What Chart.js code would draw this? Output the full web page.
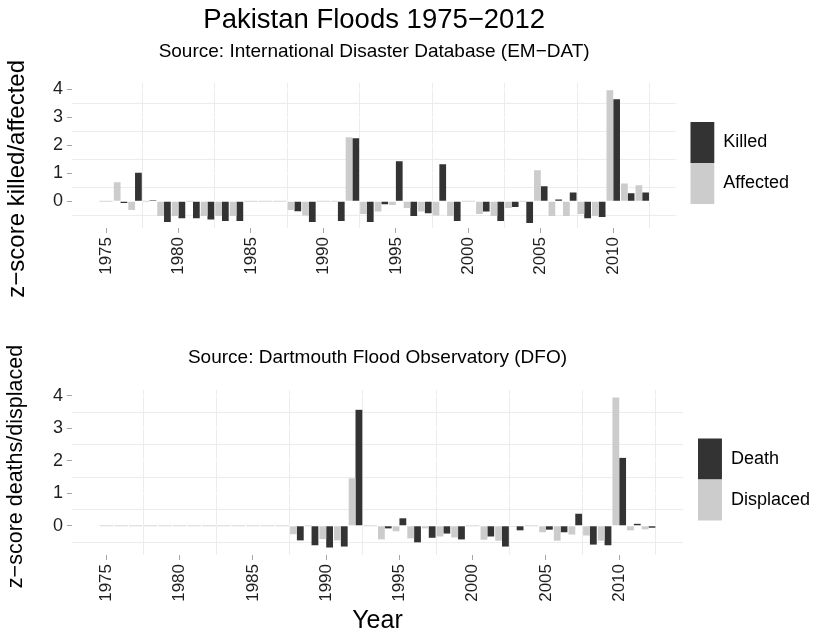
<!DOCTYPE html>
<html>
<head>
<meta charset="utf-8">
<script src="https://cdn.jsdelivr.net/npm/chart.js@4.4.1/dist/chart.umd.min.js"></script>
<style>
  body { margin: 0; background: #fff; }
  #wrap { position: relative; width: 813px; height: 636px; overflow: hidden; }
  canvas { position: absolute; left: 0; }
  #top { top: 0; }
  #bottom { top: 323px; }
</style>
</head>
<body>
<div id="wrap">
  <canvas id="top" width="813" height="326"></canvas>
  <canvas id="bottom" width="813" height="313"></canvas>
</div>
<script>
const years = [1975, 1976, 1977, 1978, 1979, 1980, 1981, 1982, 1983, 1984,
  1985, 1986, 1987, 1988, 1989, 1990, 1991, 1992, 1993, 1994,
  1995, 1996, 1997, 1998, 1999, 2000, 2001, 2002, 2003, 2004,
  2005, 2006, 2007, 2008, 2009, 2010, 2011, 2012];

// EM-DAT z-scores
const affected = [0, 0.68, -0.31, 0, -0.52, -0.52, 0, -0.52, -0.52, -0.52,
  0, 0, 0, -0.31, -0.50, 0, 0, 2.29, -0.45, -0.36,
  -0.13, -0.24, -0.36, -0.50, -0.52, 0, -0.45, -0.52, -0.24, 0,
  1.11, -0.52, -0.52, -0.45, -0.52, 3.96, 0.64, 0.57];
const killed = [0, -0.06, 1.02, 0.04, -0.74, -0.60, -0.60, -0.65, -0.70, -0.70,
  0, 0, 0, -0.35, -0.74, 0, -0.70, 2.25, -0.74, -0.10,
  1.43, -0.52, -0.42, 1.32, -0.70, 0, -0.36, -0.70, -0.20, -0.77,
  0.54, 0.07, 0.32, -0.60, -0.56, 3.64, 0.29, 0.32];

// DFO z-scores
const displaced = [0, 0, 0, 0, 0, 0, 0, 0, 0, 0,
  0, 0, 0, -0.26, 0, -0.41, -0.45, 1.46, 0, -0.42,
  -0.17, -0.39, -0.08, -0.33, -0.36, 0, -0.43, -0.46, -0.03, 0,
  -0.20, -0.46, -0.27, -0.30, -0.46, 3.95, -0.14, -0.11];
const deaths = [0, 0, 0, 0, 0, 0, 0, 0, 0, 0,
  0, 0, 0, -0.45, -0.60, -0.67, -0.64, 3.57, 0, -0.08,
  0.23, -0.51, -0.37, -0.24, -0.42, 0, -0.33, -0.64, -0.14, 0,
  -0.12, -0.20, 0.37, -0.58, -0.60, 2.09, 0.06, -0.06];

const yearTicks = [1975, 1980, 1985, 1990, 1995, 2000, 2005, 2010];
const zTicks = [0, 1, 2, 3, 4];

const light = '#cccccc';
const dark = '#333333';
const zeroCol = '#d6d6d6';
const gridCol = '#ececec';
const nb = '\u00a0';

Chart.defaults.font.family = "'Liberation Sans', Arial, sans-serif";
Chart.defaults.color = '#000';

function pts(vals) {
  return years.map((y, i) => ({ x: y, y: vals[i] }));
}

function isWhole(v) {
  return Math.abs(v - Math.round(v)) < 1e-6;
}

function makeChart(id, o) {
  const colors = [light, dark];
  return new Chart(document.getElementById(id), {
    type: 'bar',
    data: {
      datasets: [
        { label: o.names[0], data: pts(o.series[0]) },
        { label: o.names[1], data: pts(o.series[1]) }
      ].map((ds, i) => Object.assign(ds, {
        backgroundColor: c => (c.raw && c.raw.y === 0) ? zeroCol : colors[i],
        borderWidth: 0,
        minBarLength: 1,
        categoryPercentage: 0.93,
        barPercentage: 1
      }))
    },
    options: {
      responsive: false,
      animation: false,
      devicePixelRatio: 1,
      events: [],
      layout: { padding: { left: 0, right: o.padRight, top: 0, bottom: 0 } },
      plugins: {
        tooltip: { enabled: false },
        title: o.title,
        subtitle: o.subtitle,
        legend: {
          position: 'right',
          reverse: true,
          labels: {
            boxWidth: 24,
            boxHeight: 41,
            padding: 0,
            font: { size: 18 },
            color: '#000',
            generateLabels: chart => Chart.defaults.plugins.legend.labels.generateLabels(chart)
              .map(l => Object.assign(l, { fillStyle: colors[l.datasetIndex], strokeStyle: colors[l.datasetIndex], lineWidth: 0 }))
          }
        }
      },
      scales: {
        x: {
          type: 'linear',
          min: 1972.65,
          max: 2014.35,
          offset: false,
          border: { display: false },
          grid: {
            offset: false,
            color: c => isWhole(c.tick.value) ? '#ffffff' : gridCol,
            tickColor: c => isWhole(c.tick.value) ? '#a6a6a6' : 'rgba(0,0,0,0)',
            tickLength: 5
          },
          ticks: {
            autoSkip: false,
            minRotation: 90,
            maxRotation: 90,
            padding: 4,
            color: '#1f1f1f',
            font: { size: 17 },
            callback: v => isWhole(v) ? String(v) : ''
          },
          title: o.xTitle,
          afterBuildTicks: s => {
            s.ticks = [];
            yearTicks.forEach(y => { s.ticks.push({ value: y }, { value: y + 2.5 }); });
          },
          afterFit: s => { s.height = o.xHeight; }
        },
        y: {
          type: 'linear',
          min: o.yMin,
          max: o.yMax,
          border: { display: false },
          grid: {
            color: c => isWhole(c.tick.value) ? '#ffffff' : gridCol,
            tickColor: c => isWhole(c.tick.value) ? '#a6a6a6' : 'rgba(0,0,0,0)',
            tickLength: 5
          },
          ticks: {
            autoSkip: false,
            padding: 4,
            color: '#1f1f1f',
            font: { size: 18 },
            callback: v => isWhole(v) ? String(v) : ''
          },
          title: {
            display: true,
            text: o.yTitle,
            font: { size: o.yTitleSize },
            color: '#000',
            padding: { top: 3, bottom: 0 }
          },
          afterBuildTicks: s => {
            const t = [-0.5];
            zTicks.forEach(z => { t.push(z, z + 0.5); });
            s.ticks = t.filter(v => v >= s.min && v <= s.max).map(v => ({ value: v }));
          },
          afterFit: s => { s.width = 72; }
        },
        gap: {
          type: 'linear',
          position: 'right',
          display: true,
          grid: { display: false, drawTicks: false },
          ticks: { display: false },
          border: { display: false },
          afterFit: s => { s.width = o.gap; }
        }
      }
    }
  });
}

makeChart('top', {
  names: ['Affected', 'Killed'],
  series: [affected, killed],
  yMin: -0.95, yMax: 4.22,
  // trailing spaces push the rotated title down a little
  yTitle: 'z\u2212score killed/affected' + nb.repeat(7),
  yTitleSize: 24,
  xHeight: 98,
  xTitle: { display: false },
  padRight: 14,
  gap: 14,
  title: {
    display: true,
    text: 'Pakistan Floods 1975\u22122012',
    fullSize: false,
    font: { size: 27.5, weight: 'normal' },
    color: '#000',
    padding: { top: 3.5, bottom: 0 }
  },
  subtitle: {
    display: true,
    text: 'Source: International Disaster Database (EM\u2212DAT)',
    fullSize: false,
    font: { size: 19 },
    color: '#000',
    padding: { top: 4, bottom: 19.7 }
  }
});

makeChart('bottom', {
  names: ['Displaced', 'Death'],
  series: [displaced, deaths],
  yMin: -0.9, yMax: 4.18,
  yTitle: nb.repeat(2) + 'z\u2212score deaths/displaced',
  yTitleSize: 21.5,
  xHeight: 81,
  xTitle: {
    display: true,
    text: 'Year',
    font: { size: 25 },
    color: '#000',
    padding: { top: 0, bottom: 0 }
  },
  padRight: -7,
  gap: 15,
  title: {
    display: true,
    text: 'Source: Dartmouth Flood Observatory (DFO)',
    fullSize: false,
    font: { size: 19, weight: 'normal' },
    color: '#000',
    padding: { top: 23.6, bottom: 20.6 }
  },
  subtitle: { display: false }
});
</script>
</body>
</html>
